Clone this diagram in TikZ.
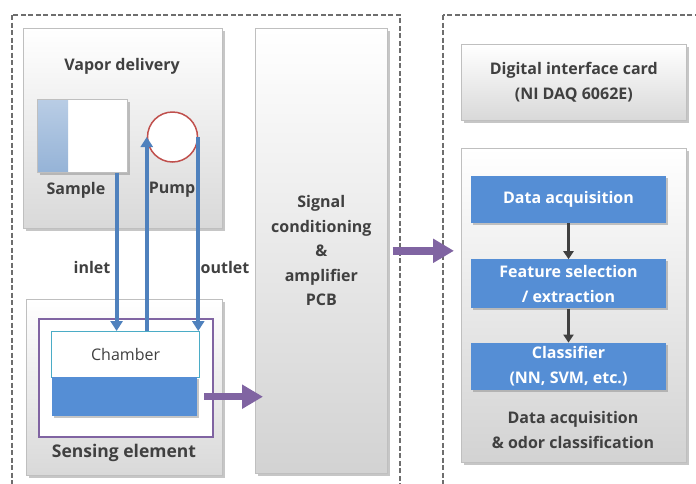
\documentclass[tikz,border=0pt]{standalone}
\usepackage{fontspec}
\setmainfont{Open Sans}
\usetikzlibrary{arrows.meta, positioning, shadows}

\definecolor{dashgray}{RGB}{110,110,110}
\definecolor{boxline}{RGB}{191,191,191}
\definecolor{txtgray}{RGB}{64,64,64}
\definecolor{flowblue}{RGB}{79,129,189}
\definecolor{sensblue}{RGB}{85,142,213}
\definecolor{sigpurple}{RGB}{128,100,162}
\definecolor{pumpred}{RGB}{192,80,77}
\definecolor{chamteal}{RGB}{75,172,198}
\definecolor{liqtop}{RGB}{185,205,229}
\definecolor{liqbot}{RGB}{149,179,215}

\begin{document}
\begin{tikzpicture}[x=1pt, y=-1pt,
        font=\bfseries\fontsize{16}{24.5}\selectfont, text=txtgray,
        frame/.style={draw=dashgray, line width=2.5pt, dash pattern=on 5pt off 2.5pt},
        panel/.style={rectangle, draw=boxline, line width=0.6pt, top color=white, bottom color=gray!30, anchor=north west, inner sep=0pt,
            drop shadow={shadow xshift=2.5pt, shadow yshift=-2.5pt, opacity=0.45, fill=gray}},
        bluebox/.style={rectangle, fill=sensblue, text=white, align=center, minimum width=195pt, minimum height=47pt,
            drop shadow={shadow xshift=2pt, shadow yshift=-2pt, opacity=0.45, fill=gray}},
        flow/.style={draw=flowblue, line width=4pt, -{Triangle[length=10pt, width=12pt]}},
        sig/.style={draw=sigpurple, line width=7.5pt, -{Triangle[length=21pt, width=23pt]}},
        stage/.style={draw=txtgray, line width=2.5pt, -{Triangle[length=8pt, width=10pt]}}
        ]
        \useasboundingbox (0,0) rectangle (696,483);
        % dashed frames, cut by the page edge
        \draw[frame] (12,15) rectangle (400,500);
        \draw[frame] (443,15) rectangle (720,500);

        % vapor delivery
        \node[panel, minimum width=199pt, minimum height=200pt] (vapor) at (23,28) {};
        \node (vaportxt) at (122,66) {Vapor delivery};
        \node[panel, fill=white, top color=white, bottom color=white, minimum width=90pt, minimum height=73pt] (sample) at (37,99) {};
        \path[top color=liqtop, bottom color=liqbot] (sample.north west) rectangle ([xshift=31pt]sample.south west);
        \draw[boxline, line width=0.6pt] (sample.north west) rectangle (sample.south east);
        \node (sampletxt) at (76,190) {Sample};
        \node[circle, draw=pumpred, line width=1.5pt, fill=white, minimum size=50pt] (pump) at (172.5,137) {};
        \node (pumptxt) at (172,190) {Pump};
        \node (inlet) at (92,267) {inlet};
        \node (outlet) at (225,267) {outlet};

        % sensing element
        \node[panel, minimum width=196pt, minimum height=176pt] (sensing) at (26,299) {};
        \node[rectangle, draw=sigpurple, line width=1.5pt, fill=white, anchor=north west, minimum width=174pt, minimum height=118pt] (holder) at (38,318) {};
        \node[rectangle, draw=chamteal, line width=1.2pt, fill=white, anchor=north west, minimum width=148pt, minimum height=46pt,
            font=\mdseries\fontsize{16}{18}\selectfont] (chamber) at (51,331) {Chamber};
        \node[rectangle, fill=sensblue, anchor=north west, minimum width=145pt, minimum height=39pt,
            drop shadow={shadow xshift=2pt, shadow yshift=-2pt, opacity=0.45, fill=gray}] (sensor) at (52,377) {};
        \node[font=\bfseries\fontsize{17.5}{20}\selectfont] (sensingtxt) at (124,453) {Sensing element};

        % signal conditioning
        \node[panel, bottom color=gray!35, minimum width=132pt, minimum height=445pt, align=center] (signal) at (255,28)
            {Signal\\conditioning\\\&\\amplifier\\PCB};

        % data acquisition side
        \node[panel, minimum width=225pt, minimum height=76pt, align=center] (daq) at (461,44)
            {Digital interface card\\(NI DAQ 6062E)};
        \node[panel, bottom color=gray!35, minimum width=225pt, minimum height=314pt] (classbox) at (461,148) {};
        \node[bluebox] (dacq) at (568.5,199.5) {Data acquisition};
        \node[bluebox, minimum height=49pt, below=36pt of dacq] (feat) {Feature selection\\/ extraction};
        \node[bluebox, below=34pt of feat] (clf) {Classifier\\(NN, SVM, etc.)};
        \node[align=center] (classtxt) at (573,430) {Data acquisition\\\& odor classification};

        % connectors
        \draw[flow] ([xshift=-11pt]sample.south east) -- ([xshift=-11pt]sample.south east |- chamber.north);
        \draw[flow] (pump.west |- chamber.north) -- (pump.west);
        \draw[flow] (pump.east) -- (pump.east |- chamber.north);
        \draw[sig] ([xshift=7pt]sensor.east) -- ([xshift=8pt]signal.west |- sensor.east);
        \draw[sig] ([xshift=5pt]signal.east) -- ([xshift=-7pt]classbox.west |- signal.east);
        \draw[stage] (dacq) -- (feat);
        \draw[stage] (feat) -- (clf);
    \end{tikzpicture}
\end{document}
